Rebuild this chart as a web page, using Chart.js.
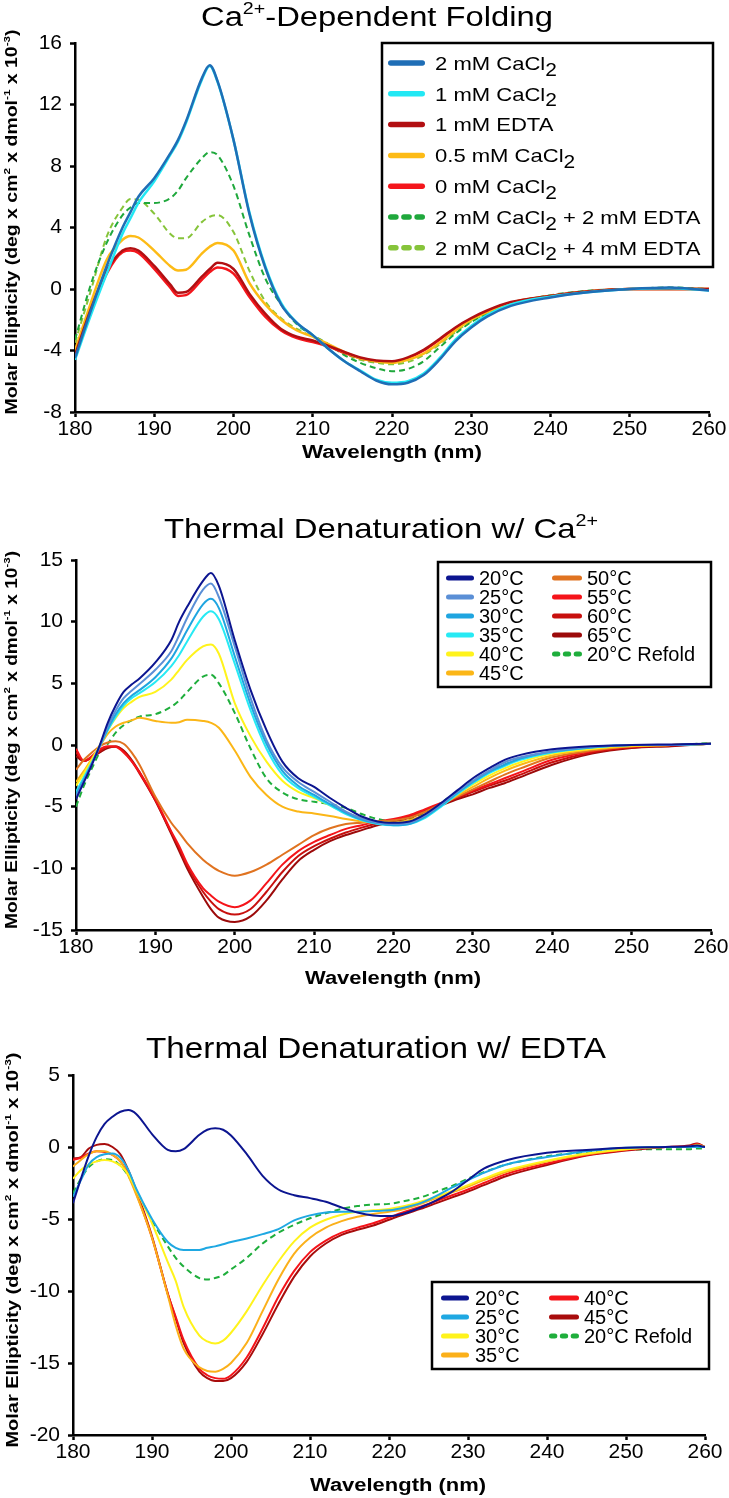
<!DOCTYPE html>
<html>
<head>
<meta charset="utf-8">
<script src="https://cdn.jsdelivr.net/npm/chart.js@4.4.1/dist/chart.umd.min.js"></script>
<style>
  html, body { margin: 0; padding: 0; background: #fff; }
  #wrap { position: relative; width: 729px; height: 1498px; }
  #wrap canvas { position: absolute; left: 0; }
</style>
</head>
<body>
<div id="wrap">
  <canvas id="c1" width="729" height="485" style="top:0"></canvas>
  <canvas id="c2" width="729" height="505" style="top:490px"></canvas>
  <canvas id="c3" width="729" height="498" style="top:1000px"></canvas>
</div>
<script>
// ---- panel 1: Ca2+-dependent folding ----
var WL1 = [180,182,184,186,187,188,190,192,193,194,196,197,198,200,202,204,206,208,210,212,214,216,218,220,222,224,226,228,230,232,235,240,245,250,255,260];
var P1_LABELS = ["2 mM CaCl_{2}", "1 mM CaCl_{2}", "1 mM EDTA", "0.5 mM CaCl_{2}", "0 mM CaCl_{2}", "2 mM CaCl_{2} + 2 mM EDTA", "2 mM CaCl_{2} + 4 mM EDTA"];
var P1_CA2 = [-4.5,-1.4,1.5,4.0,5.0,6.0, 7.2,8.8,9.7,10.9, 13.7,14.55,13.5, 9.7,4.9,1.4,-1.0,-2.2,-3.0,-3.9,-4.7,-5.35,-5.95, -6.2,-6.1,-5.6,-4.6,-3.4,-2.5,-1.8, -1.1,-0.55,-0.2,0,0.1,-0.1];
var P1_CA1 = [-4.6,-1.7,1.0,3.6,4.6,5.6, 7.0,8.7,9.6,10.8, 13.6,14.5,13.45, 9.7,5.0,1.5,-0.9,-2.2,-3.0,-3.9,-4.7,-5.3,-5.9, -6.1,-6.0,-5.5,-4.5,-3.3,-2.4,-1.7, -1.0,-0.5,-0.2,0,0.05,-0.1];
var P1_EDTA = [-4.3,-1.3,1.2,2.5,2.65,2.5, 1.5,0.3,-0.25,-0.2, 0.8,1.3,1.7, 1.3,-0.3,-1.6,-2.6,-3.1,-3.35,-3.7,-4.1,-4.45,-4.65, -4.7,-4.45,-3.95,-3.25,-2.5,-1.9,-1.4, -0.85,-0.45,-0.15,0,0,0];
var P1_CA05 = [-4.0,-0.9,1.9,3.2,3.45,3.35, 2.5,1.5,1.2,1.25, 2.3,2.75,3.0, 2.5,0.4,-1.0,-2.0,-2.7,-3.1,-3.6,-4.1,-4.5,-4.7, -4.8,-4.6,-4.2,-3.5,-2.7,-2.0,-1.5, -0.9,-0.45,-0.15,0,0,0];
var P1_CA0 = [-4.5,-1.5,1.0,2.4,2.5,2.35, 1.3,0.1,-0.45,-0.4, 0.6,1.1,1.4, 1.0,-0.5,-1.8,-2.7,-3.2,-3.45,-3.75,-4.15,-4.5,-4.7, -4.75,-4.5,-4.0,-3.3,-2.55,-1.95,-1.45, -0.9,-0.45,-0.15,0,0,0];
var P1_E2 = [-3.3,0.3,3.0,4.8,5.3,5.6, 5.6,5.9,6.4,7.2, 8.5,8.9,8.7, 6.7,3.5,0.7,-1.0,-2.3,-3.0,-3.6,-4.3,-4.8,-5.15, -5.35,-5.2,-4.7,-3.8,-2.9,-2.15,-1.6, -0.95,-0.4,-0.1,0,0.1,0];
var P1_E4 = [-3.5,-0.1,3.4,5.3,5.85,5.8, 4.9,3.6,3.3,3.3, 4.35,4.7,4.8, 3.7,1.2,-0.8,-1.9,-2.6,-3.1,-3.7,-4.2,-4.6,-4.8, -4.9,-4.75,-4.3,-3.6,-2.8,-2.1,-1.6, -0.95,-0.45,-0.15,0,0.05,0];
var P1_VALUES = [P1_CA2, P1_CA1, P1_EDTA, P1_CA05, P1_CA0, P1_E2, P1_E4];
var P1_YTICKS = { min: -8, max: 16, step: 4 };

// ---- panel 2: thermal denaturation with Ca2+ ----
var WL2 = [180,181,182,183,184,185,186,187,188,190,192,193,194,196,197,198,200,202,204,206,208,210,212,214,216,218,220,222,224,226,228,230,232,234,236,240,245,250,255,260];
var P2_LABELS = ["20°C", "25°C", "30°C", "35°C", "40°C", "45°C", "50°C", "55°C", "60°C", "65°C", "20°C Refold"];
var P2_T20 = [-4.4,-3.0,-1.6,0.0,1.8,3.2,4.3,4.9,5.4, 6.7,8.5,10.0,11.2, 13.3,13.95,12.9, 8.5,4.45,1.2,-1.35,-2.7,-3.4,-4.3,-5.1,-5.8,-6.2, -6.3,-6.2,-5.6,-4.7,-3.7,-2.7,-1.9,-1.2,-0.8, -0.35,-0.1,0,0.05,0.1];
var P2_T25 = [-4.2,-2.9,-1.5,-0.1,1.5,2.8,3.8,4.4,4.95, 6.1,7.6,8.9,10.3, 12.6,13.1,12.0, 8.0,3.8,0.4,-1.8,-3.0,-3.8,-4.6,-5.4,-5.95,-6.3, -6.4,-6.3,-5.7,-4.8,-3.8,-2.9,-2.1,-1.4,-1.0, -0.5,-0.15,0,0,0.1];
var P2_T30 = [-4.0,-2.8,-1.5,-0.1,1.3,2.5,3.4,4.0,4.45, 5.5,7.0,8.1,9.3, 11.4,11.85,11.1, 7.2,3.3,0.1,-2.1,-3.3,-4.05,-4.8,-5.5,-6.05,-6.35, -6.5,-6.4,-5.8,-4.9,-3.9,-3.0,-2.2,-1.6,-1.1, -0.55,-0.2,0,0,0.1];
var P2_T35 = [-3.8,-2.6,-1.4,-0.1,1.2,2.3,3.2,3.8,4.2, 5.1,6.4,7.3,8.4, 10.4,10.85,10.2, 6.6,2.8,-0.3,-2.4,-3.5,-4.2,-4.9,-5.6,-6.1,-6.4, -6.5,-6.4,-5.9,-5.0,-4.0,-3.1,-2.3,-1.7,-1.2, -0.6,-0.2,0,0,0.1];
var P2_T40 = [-3.3,-2.3,-1.2,0.0,1.2,2.2,3.0,3.5,3.9, 4.3,5.3,6.1,6.9, 8.0,8.15,7.4, 3.4,0.7,-1.35,-2.9,-3.8,-4.3,-4.9,-5.5,-5.9,-6.2, -6.3,-6.2,-5.7,-4.9,-4.0,-3.2,-2.5,-1.9,-1.4, -0.7,-0.3,-0.05,0,0.1];
var P2_T45 = [-3.0,-2.1,-1.1,-0.1,0.9,1.5,1.8,2.0,2.2, 1.95,1.8,1.85,2.05, 1.95,1.8,1.4, -0.45,-2.6,-4.05,-5.0,-5.4,-5.55,-5.75,-6.0,-6.2,-6.3, -6.3,-6.1,-5.6,-4.9,-4.1,-3.4,-2.7,-2.1,-1.6, -0.85,-0.35,-0.1,0,0.1];
var P2_T50 = [-2.0,-1.2,-0.6,-0.1,0.2,0.3,0.1,-0.6,-1.6, -4.2,-6.3,-7.1,-7.95, -9.3,-9.8,-10.2, -10.6,-10.3,-9.7,-8.9,-8.1,-7.3,-6.75,-6.4,-6.3,-6.2, -6.1,-5.9,-5.4,-4.8,-4.2,-3.6,-3.0,-2.4,-1.9, -1.0,-0.45,-0.1,0,0.1];
var P2_T55 = [-0.3,-1.3,-0.9,-0.35,-0.1,-0.15,-0.6,-1.3,-2.2, -4.4,-7.0,-8.2,-9.6, -11.6,-12.2,-12.7, -13.15,-12.6,-11.2,-9.7,-8.6,-7.85,-7.3,-6.8,-6.5,-6.2, -6.0,-5.7,-5.2,-4.7,-4.2,-3.7,-3.2,-2.7,-2.2, -1.2,-0.5,-0.15,0,0.1];
var P2_T60 = [-0.6,-1.3,-1.0,-0.5,-0.15,-0.1,-0.5,-1.3,-2.3, -4.5,-7.1,-8.4,-9.8, -11.9,-12.7,-13.3, -13.75,-13.3,-11.9,-10.3,-9.0,-8.2,-7.6,-7.1,-6.7,-6.35, -6.1,-5.8,-5.3,-4.8,-4.3,-3.8,-3.3,-2.9,-2.4, -1.4,-0.6,-0.2,-0.05,0.1];
var P2_T65 = [-0.9,-1.3,-1.0,-0.6,-0.25,-0.15,-0.45,-1.2,-2.2, -4.5,-7.2,-8.6,-10.0, -12.3,-13.3,-14.0, -14.35,-13.9,-12.6,-10.9,-9.4,-8.5,-7.8,-7.3,-6.9,-6.5, -6.2,-5.9,-5.4,-4.9,-4.4,-4.0,-3.5,-3.1,-2.6, -1.6,-0.7,-0.25,-0.1,0.1];
var P2_REFOLD = [-5.0,-3.3,-1.9,-0.6,0.1,1.0,1.6,2.0,2.3, 2.5,3.1,3.6,4.3, 5.55,5.7,5.0, 2.6,-0.3,-2.7,-3.85,-4.4,-4.6,-4.8,-5.1,-5.6,-6.0, -6.2,-6.0,-5.5,-4.7,-3.8,-2.9,-2.2,-1.6,-1.1, -0.55,-0.2,-0.05,0,0.15];
var P2_VALUES = [P2_T20, P2_T25, P2_T30, P2_T35, P2_T40, P2_T45, P2_T50, P2_T55, P2_T60, P2_T65, P2_REFOLD];
var P2_YTICKS = { min: -15, max: 15, step: 5 };

// ---- panel 3: thermal denaturation with EDTA ----
var WL3 = [180,181,182,183,184,185,186,187,188,190,192,193,194,196,197,198,199,200,202,204,206,208,210,212,214,216,218,220,222,224,226,228,230,232,235,240,245,250,255,258,259,260];
var P3_LABELS = ["20°C", "25°C", "30°C", "35°C", "40°C", "45°C", "20°C Refold"];
var P3_T20 = [-3.9,-2.2,-0.6,0.7,1.6,2.1,2.45,2.57,2.3, 0.9,-0.2,-0.3,-0.15, 0.85,1.2,1.3,1.2,0.8, -0.5,-2.0,-2.95,-3.35,-3.55,-3.8,-4.2,-4.55,-4.75, -4.8,-4.6,-4.2,-3.7,-3.1,-2.3,-1.5, -0.9,-0.4,-0.2,-0.05,0,0.05,0.1,0];
var P3_T25 = [-3.45,-2.3,-1.2,-0.7,-0.5,-0.45,-0.75,-1.6,-2.9, -5.0,-6.6,-7.0,-7.15, -7.15,-7.0,-6.9,-6.75,-6.6, -6.35,-6.05,-5.7,-5.1,-4.75,-4.55,-4.5,-4.5,-4.45, -4.4,-4.2,-3.9,-3.4,-2.8,-2.3,-1.8, -1.2,-0.7,-0.3,-0.05,0,0,0,0];
var P3_T30 = [-2.2,-1.6,-1.2,-1.0,-0.9,-1.0,-1.3,-1.9,-3.0, -5.3,-8.0,-9.3,-11.1, -13.1,-13.5,-13.65,-13.45,-12.9, -11.4,-9.6,-7.95,-6.55,-5.6,-5.05,-4.7,-4.5,-4.4, -4.3,-4.1,-3.8,-3.45,-3.05,-2.65,-2.2, -1.6,-0.95,-0.45,-0.15,0,0,0.1,0];
var P3_T35 = [-1.35,-0.9,-0.5,-0.3,-0.3,-0.55,-1.0,-2.0,-3.3, -6.3,-10.3,-12.4,-14.0, -15.3,-15.55,-15.6,-15.4,-15.0, -13.6,-11.4,-9.2,-7.4,-6.3,-5.6,-5.15,-4.85,-4.65, -4.5,-4.3,-3.95,-3.55,-3.15,-2.75,-2.3, -1.7,-1.0,-0.5,-0.15,0,0,0.15,0];
var P3_T40 = [-0.9,-0.75,-0.45,-0.3,-0.35,-0.55,-1.0,-1.9,-3.2, -6.3,-10.2,-11.8,-13.4, -15.4,-15.85,-16.05,-16.1,-15.85, -14.6,-12.6,-10.4,-8.6,-7.3,-6.5,-5.95,-5.6,-5.3, -4.9,-4.5,-4.15,-3.75,-3.35,-2.95,-2.5, -1.85,-1.15,-0.55,-0.2,0,0.05,0.2,0];
var P3_T45 = [-0.8,-0.7,-0.1,0.15,0.2,0.0,-0.5,-1.6,-3.0, -6.2,-10.2,-11.9,-13.6, -15.6,-16.05,-16.25,-16.25,-16.05, -14.9,-13.0,-10.9,-9.0,-7.6,-6.7,-6.1,-5.75,-5.45, -5.05,-4.65,-4.3,-3.9,-3.5,-3.1,-2.65, -2.0,-1.25,-0.6,-0.25,0,0.1,0.25,0];
var P3_REFOLD = [-3.2,-2.2,-1.4,-1.0,-0.85,-0.9,-1.3,-2.0,-3.0, -5.1,-6.9,-7.7,-8.3, -9.1,-9.2,-9.1,-8.9,-8.5, -7.7,-6.7,-5.95,-5.4,-4.95,-4.6,-4.3,-4.1,-4.0, -3.95,-3.75,-3.5,-3.1,-2.7,-2.2,-1.75, -1.2,-0.65,-0.35,-0.2,-0.15,-0.15,-0.1,-0.1];
var P3_VALUES = [P3_T20, P3_T25, P3_T30, P3_T35, P3_T40, P3_T45, P3_REFOLD];
var P3_YTICKS = { min: -20, max: 5, step: 5 };

var X_RANGE = { min: 180, max: 260, step: 10 };

// colours (legend order)
var P1_COLORS = ["#1f6eb6", "#22e8f4", "#b20f12", "#fdbb16", "#f4161c", "#1fa83c", "#86c43a"];
var P1_DASHED = [false, false, false, false, false, true, true];
var P2_COLORS = ["#0c1590", "#5b8fd6", "#1fa5e0", "#27eaf4", "#fff31c", "#fbb617", "#e07320", "#f5141a", "#c8100e", "#9c0a0a", "#1fae3c"];
var P2_DASHED = [false, false, false, false, false, false, false, false, false, false, true];
var P3_COLORS = ["#0c1590", "#1fa8e2", "#fff31c", "#fbb01a", "#f5141a", "#a80c0c", "#1fae3c"];
var P3_DASHED = [false, false, false, false, false, false, true];

var FAMILY = "'Liberation Sans', Arial, sans-serif";
var Y_TITLE = "Molar Ellipticity (deg x cm^{2} x dmol^{-1} x 10^{-3})";

Chart.defaults.font.family = FAMILY;

// tiny rich text: ^{..} superscript, _{..} subscript
function parseRich(s) {
  var segs = [], re = /\^\{([^}]*)\}|_\{([^}]*)\}|([^^_]+)/g, m;
  while ((m = re.exec(s))) {
    if (m[1] != null) segs.push({ t: m[1], k: "sup" });
    else if (m[2] != null) segs.push({ t: m[2], k: "sub" });
    else segs.push({ t: m[3], k: "n" });
  }
  return segs;
}

function segFont(seg, size, weight) {
  var s = seg.k === "sup" ? size * 0.6 : seg.k === "sub" ? size * 0.95 : size;
  return (weight || "normal") + " " + s + "px " + FAMILY;
}

function drawRich(ctx, str, o) {
  var segs = parseRich(str), w = 0;
  segs.forEach(function (sg) {
    ctx.font = segFont(sg, o.size, o.weight);
    sg.w = ctx.measureText(sg.t).width;
    w += sg.w;
  });
  var sx = o.width ? o.width / w : (o.stretch || 1);
  ctx.save();
  ctx.translate(o.x, o.y);
  if (o.rotate) ctx.rotate(-Math.PI / 2);
  ctx.scale(sx, 1);
  ctx.fillStyle = "#000";
  ctx.textAlign = "left";
  ctx.textBaseline = "alphabetic";
  var cx = o.align === "left" ? 0 : -w / 2;
  var base = o.size * 0.36;
  segs.forEach(function (sg) {
    ctx.font = segFont(sg, o.size, o.weight);
    var dy = sg.k === "sup" ? -o.size * 0.42 : sg.k === "sub" ? o.size * 0.3 : 0;
    ctx.fillText(sg.t, cx, base + dy);
    cx += sg.w;
  });
  ctx.restore();
}

function legendSample(ctx, x1, x2, y, color, dashed, lw) {
  var r = lw / 2;
  ctx.save();
  ctx.strokeStyle = color;
  ctx.lineWidth = lw;
  ctx.lineCap = "round";
  ctx.beginPath();
  if (!dashed) {
    ctx.moveTo(x1 + r, y);
    ctx.lineTo(x2 - r, y);
  } else {
    var gap = 2.5, len = (x2 - x1 - 2 * gap) / 3;
    for (var k = 0; k < 3; k++) {
      var a = x1 + k * (len + gap);
      ctx.moveTo(a + r, y);
      ctx.lineTo(a + len - r, y);
    }
  }
  ctx.stroke();
  ctx.restore();
}

var decor = {
  id: "decor",
  afterDraw: function (chart, args, opts) {
    var ctx = chart.ctx;
    (opts.texts || []).forEach(function (t) { drawRich(ctx, t.text, t); });
    var lg = opts.legend;
    if (!lg) return;
    ctx.save();
    ctx.lineWidth = 2.5;
    ctx.strokeStyle = "#000";
    ctx.strokeRect(lg.box[0], lg.box[1], lg.box[2] - lg.box[0], lg.box[3] - lg.box[1]);
    ctx.restore();
    var ds = chart.data.datasets, i = 0;
    lg.cols.forEach(function (col) {
      for (var r = 0; r < col.n; r++, i++) {
        var d = ds[i], y = lg.y0 + r * lg.dy;
        legendSample(ctx, col.x1, col.x2, y, d.borderColor, !!d.borderDash, lg.lw);
        drawRich(ctx, d.label, { x: col.tx, y: y, size: lg.size, align: "left", stretch: lg.stretch });
      }
    });
  }
};

function axisStyle() {
  return {
    grid: { drawOnChartArea: false, drawTicks: true, tickLength: 5, tickColor: "#000", tickWidth: 2.5 },
    border: { display: true, color: "#000", width: 2.5 }
  };
}

function makeChart(id, wl, labels, values, colors, dashed, yt, cfg) {
  var xs = axisStyle(), ys = axisStyle();
  return new Chart(document.getElementById(id), {
    type: "line",
    data: {
      datasets: labels.map(function (lab, k) {
        return {
          label: lab,
          data: wl.map(function (x, i) { return { x: x, y: values[k][i] }; }),
          borderColor: colors[k],
          borderWidth: dashed[k] ? 2 : cfg.lw,
          borderDash: dashed[k] ? [6, 4] : undefined,
          pointRadius: 0,
          cubicInterpolationMode: "monotone",
          fill: false
        };
      })
    },
    options: {
      responsive: false,
      animation: false,
      events: [],
      layout: { padding: cfg.pad },
      plugins: {
        legend: { display: false },
        tooltip: { enabled: false },
        decor: { texts: cfg.texts, legend: cfg.legend }
      },
      scales: {
        x: {
          type: "linear",
          min: X_RANGE.min,
          max: X_RANGE.max,
          afterFit: function (s) { s.height = 40; },
          ticks: { stepSize: X_RANGE.step, color: "#000", font: { size: 21 }, padding: 0, maxRotation: 0 },
          grid: xs.grid,
          border: xs.border
        },
        y: {
          min: yt.min,
          max: yt.max,
          afterFit: function (s) { s.width = cfg.yw; },
          ticks: { stepSize: yt.step, color: "#000", font: { size: 21 }, padding: 8 },
          grid: ys.grid,
          border: ys.border
        }
      }
    },
    plugins: [decor]
  });
}

makeChart("c1", WL1, P1_LABELS, P1_VALUES, P1_COLORS, P1_DASHED, P1_YTICKS, {
  lw: 2.5, yw: 75,
  pad: { top: 43, right: 20, bottom: 33, left: 0 },
  texts: [
    { text: "Ca^{2+}-Dependent Folding", x: 377, y: 16, size: 27, width: 352 },
    { text: Y_TITLE, x: 11, y: 222, size: 16, weight: "bold", width: 385, rotate: true },
    { text: "Wavelength (nm)", x: 392, y: 452, size: 18, weight: "bold", width: 180 }
  ],
  legend: {
    box: [382, 43, 713, 267], y0: 63, dy: 30.8, size: 19, stretch: 1.16, lw: 5.5,
    cols: [{ n: 7, x1: 388, x2: 425, tx: 435 }]
  }
});

makeChart("c2", WL2, P2_LABELS, P2_VALUES, P2_COLORS, P2_DASHED, P2_YTICKS, {
  lw: 2, yw: 76,
  pad: { top: 70, right: 18, bottom: 25, left: 0 },
  texts: [
    { text: "Thermal Denaturation w/ Ca^{2+}", x: 381, y: 38, size: 28, width: 434 },
    { text: Y_TITLE, x: 11, y: 250, size: 16, weight: "bold", width: 378, rotate: true },
    { text: "Wavelength (nm)", x: 393, y: 488, size: 18, weight: "bold", width: 176 }
  ],
  legend: {
    box: [438, 72, 711, 197], y0: 88, dy: 19, size: 20, stretch: 1, lw: 5,
    cols: [{ n: 6, x1: 446, x2: 474, tx: 479 }, { n: 5, x1: 552, x2: 582, tx: 587 }]
  }
});

makeChart("c3", WL3, P3_LABELS, P3_VALUES, P3_COLORS, P3_DASHED, P3_YTICKS, {
  lw: 2, yw: 73,
  pad: { top: 75, right: 24, bottom: 23, left: 0 },
  texts: [
    { text: "Thermal Denaturation w/ EDTA", x: 376, y: 47, size: 30, width: 460 },
    { text: Y_TITLE, x: 12, y: 250, size: 16, weight: "bold", width: 395, rotate: true },
    { text: "Wavelength (nm)", x: 398, y: 485, size: 18, weight: "bold", width: 176 }
  ],
  legend: {
    box: [432, 282, 709, 369], y0: 298, dy: 19, size: 20, stretch: 1, lw: 5,
    cols: [{ n: 4, x1: 441, x2: 469, tx: 475 }, { n: 3, x1: 549, x2: 579, tx: 584 }]
  }
});
</script>
</body>
</html>
